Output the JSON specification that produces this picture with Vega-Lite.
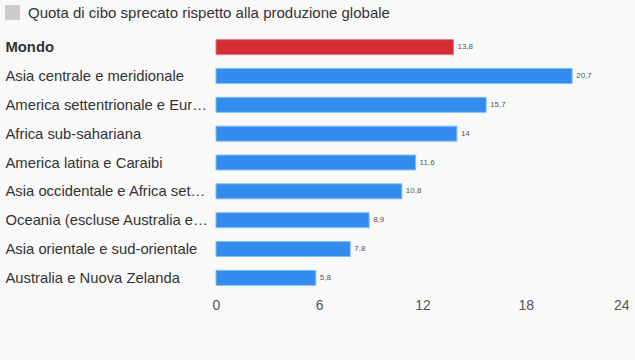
{
  "$schema": "https://vega.github.io/schema/vega-lite/v6.json",
  "autosize": {"type": "none"},
  "width": 413,
  "height": 259,
  "padding": {"left": 216, "top": 33, "right": 6, "bottom": 68},
  "background": "#f9f9f9",
  "config": {
    "font": "Liberation Sans",
    "view": {"stroke": null},
    "locale": {"number": {"decimal": ",", "thousands": ".", "grouping": [3], "currency": ["€", ""]}}
  },
  "data": {
    "values": [
      {"regione": "Mondo", "valore": 13.8, "serie": "Quota di cibo sprecato rispetto alla produzione globale"},
      {"regione": "Asia centrale e meridionale", "valore": 20.7, "serie": "Quota di cibo sprecato rispetto alla produzione globale"},
      {"regione": "America settentrionale e Europa", "valore": 15.7, "serie": "Quota di cibo sprecato rispetto alla produzione globale"},
      {"regione": "Africa sub-sahariana", "valore": 14, "serie": "Quota di cibo sprecato rispetto alla produzione globale"},
      {"regione": "America latina e Caraibi", "valore": 11.6, "serie": "Quota di cibo sprecato rispetto alla produzione globale"},
      {"regione": "Asia occidentale e Africa settentrionale", "valore": 10.8, "serie": "Quota di cibo sprecato rispetto alla produzione globale"},
      {"regione": "Oceania (escluse Australia e Nuova Zelanda)", "valore": 8.9, "serie": "Quota di cibo sprecato rispetto alla produzione globale"},
      {"regione": "Asia orientale e sud-orientale", "valore": 7.8, "serie": "Quota di cibo sprecato rispetto alla produzione globale"},
      {"regione": "Australia e Nuova Zelanda", "valore": 5.8, "serie": "Quota di cibo sprecato rispetto alla produzione globale"}
    ]
  },
  "encoding": {
    "y": {
      "field": "regione", "type": "nominal", "sort": null, "title": null,
      "scale": {"paddingInner": 0.48, "paddingOuter": 0.23},
      "axis": {
        "domain": false, "ticks": false, "labelAlign": "left", "labelPadding": 211,
        "labelLimit": 204, "labelFontSize": 14.8, "labelColor": "#333333", "labelOffset": 1,
        "labelFontWeight": {"condition": {"test": "datum.value == 'Mondo'", "value": "bold"}, "value": "normal"}
      }
    },
    "x": {
      "field": "valore", "type": "quantitative", "title": null,
      "scale": {"domain": [0, 24], "nice": false},
      "axis": {"values": [0, 6, 12, 18, 24], "domain": false, "ticks": false, "grid": false,
        "labelFontSize": 14, "labelColor": "#555555", "labelPadding": 6, "labelFlush": false,
        "labelAlign": {"condition": {"test": "datum.value == 24", "value": "right"}, "value": "center"}}
    }
  },
  "layer": [
    {
      "mark": {"type": "bar", "strokeWidth": 1},
      "encoding": {
        "fill": {"condition": {"test": "datum.regione == 'Mondo'", "value": "#d42d33"}, "value": "#328ced"},
        "stroke": {"condition": {"test": "datum.regione == 'Mondo'", "value": "#e77a7e"}, "value": "#86bdf5"}
      }
    },
    {
      "mark": {"type": "square", "opacity": 0},
      "encoding": {
        "color": {"field": "serie", "type": "nominal", "scale": {"range": ["#cccccc"]},
          "legend": {"orient": "none", "legendX": -211, "legendY": -28, "title": null,
            "symbolType": "square", "symbolSize": 225, "symbolStrokeWidth": 0, "symbolOpacity": 1,
            "labelFontSize": 15, "labelColor": "#333333", "labelOffset": 8, "labelLimit": 500}}
      }
    },
    {
      "mark": {"type": "text", "align": "left", "dx": 4, "fontSize": 8, "color": "#555555"},
      "encoding": {"text": {"field": "valore", "type": "quantitative", "format": "~r"}}
    }
  ]
}
